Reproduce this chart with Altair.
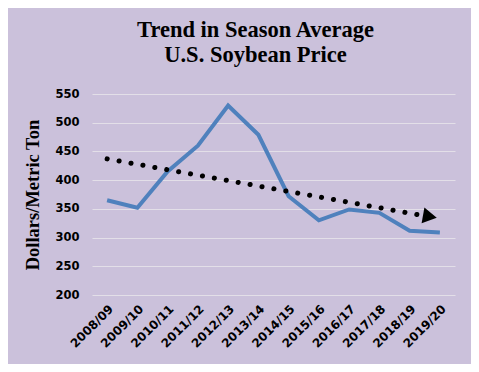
import altair as alt
import pandas as pd

seasons = ["2008/09", "2009/10", "2010/11", "2011/12", "2012/13", "2013/14",
           "2014/15", "2015/16", "2016/17", "2017/18", "2018/19", "2019/20"]
prices = [365, 352, 415, 460, 530, 479, 372, 330, 349, 343, 312, 309]

trend_seasons = ["2008/09", "2019/20"]
trend_values = [437, 333]

y_ticks = [200, 250, 300, 350, 400, 450, 500, 550]

df = pd.DataFrame({"season": seasons, "price": prices})
tr = pd.DataFrame({"season": trend_seasons, "price": trend_values})
arrow_df = tr.iloc[[1]]

x_enc = alt.X(
    "season:O", sort=seasons,
    scale=alt.Scale(type="point", padding=0.5),
    axis=alt.Axis(title=None, labelAngle=-45, labelFont="DejaVu Sans", labelFontWeight="bold",
                  labelFontSize=12, labelColor="black", labelPadding=8, labelOverlap=False,
                  ticks=False, domain=False, grid=False),
)
y_enc = alt.Y(
    "price:Q",
    scale=alt.Scale(domain=[200, 550], nice=False, zero=False),
    axis=alt.Axis(values=y_ticks, tickCount=8, title="Dollars/Metric Ton",
                  titleFont="Liberation Serif", titleFontSize=18.5, titleFontWeight="bold",
                  titleColor="black", titlePadding=12, labelOverlap=False,
                  labelFont="DejaVu Sans", labelFontWeight="bold", labelFontSize=11.5,
                  labelColor="black", labelPadding=13, ticks=False, domain=False,
                  grid=True, gridColor="#E3DFE8", gridWidth=1.2),
)

line = alt.Chart(df).mark_line(color="#4F81BD", strokeWidth=4, strokeJoin="miter").encode(x=x_enc, y=y_enc)

trend = alt.Chart(tr).mark_line(color="black", strokeWidth=5, strokeCap="round",
                                strokeDash=[0.1, 12]).encode(x=x_enc, y=y_enc)

arrow = alt.Chart(arrow_df).mark_point(shape="triangle-right", filled=True, color="black",
                                       size=260, angle=10, opacity=1, xOffset=-10,
                                       yOffset=-2).encode(x=x_enc, y=y_enc)

chart = alt.layer(line, trend, arrow).properties(
    width=363, height=201,
    background="#CBC1DB",
    autosize=alt.AutoSizeParams(type="none"),
    padding={"left": 84, "top": 86, "right": 16, "bottom": 69},
    title=alt.TitleParams(["Trend in Season Average", "U.S. Soybean Price"],
                          font="Liberation Serif", fontSize=22.5, fontWeight="bold",
                          color="black", anchor="middle", frame="group", dx=-18, offset=22,
                          lineHeight=25),
).configure_view(stroke=None)

chart.save("out.html", embed_options={"renderer": "svg", "actions": False})
